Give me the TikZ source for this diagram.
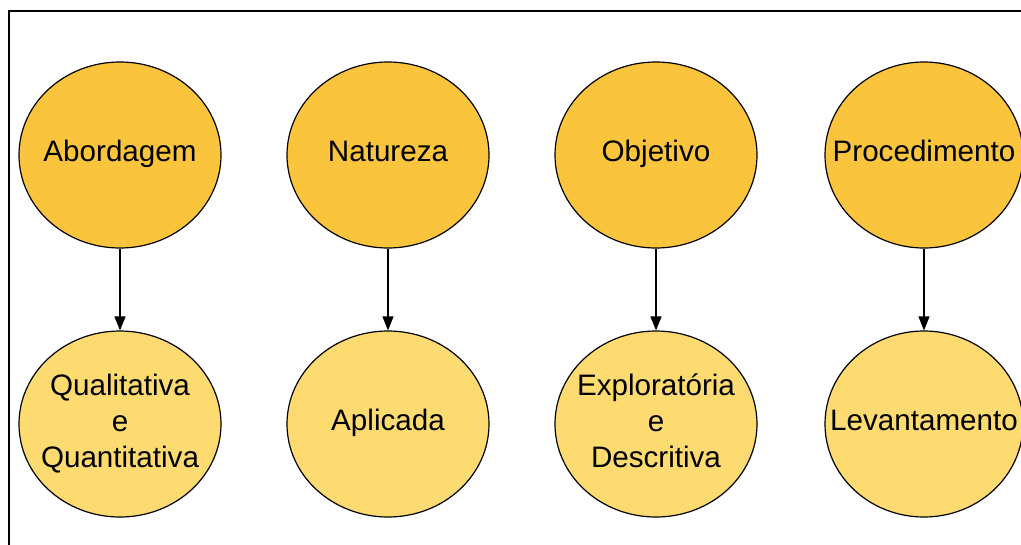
\documentclass[tikz,border=0pt]{standalone}
\usepackage{fontspec}
\setmainfont{Liberation Sans}
\usetikzlibrary{shapes.geometric,arrows.meta}
\definecolor{topfill}{HTML}{FBC43D}
\definecolor{botfill}{HTML}{FDDB70}
\begin{document}
\begin{tikzpicture}[x=1pt,y=-1pt,
  oval/.style={ellipse,draw=black,line width=1.2pt,minimum width=202pt,minimum height=186pt,inner sep=0pt},
  txt/.style={align=center,inner sep=0pt,font=\fontsize{29.6}{36}\selectfont},
  stxt/.style={txt,text height=21pt,text depth=9pt},
  topoval/.style={oval,fill=topfill},
  botoval/.style={oval,fill=botfill},
  conn/.style={draw=black,line width=1.3pt,-{Triangle[length=14pt,width=11pt]}}]
\useasboundingbox (0,0) rectangle (1021,544);
\begin{scope}
\clip (0,0) rectangle (1021,544);
\draw[line width=1.6pt] (9,11) rectangle (1040,570);
\end{scope}
\node[topoval,label={[stxt]center:Abordagem}] (t1) at (120,155) {};
\node[topoval,label={[stxt]center:Natureza}] (t2) at (388,155) {};
\node[topoval,label={[stxt]center:Objetivo}] (t3) at (656,155) {};
\node[topoval,minimum width=198pt,label={[stxt]center:Procedimento}] (t4) at (924,155) {};
\node[botoval,label={[txt]center:Qualitativa\\e\\Quantitativa}] (b1) at (120,424) {};
\node[botoval,label={[stxt]center:Aplicada}] (b2) at (388,424) {};
\node[botoval,label={[txt,yshift=3pt]center:Exploratória\\e\\Descritiva}] (b3) at (656,424) {};
\node[botoval,minimum width=198pt,label={[stxt]center:Levantamento}] (b4) at (924,424) {};
\draw[conn] (t1) -- (b1);
\draw[conn] (t2) -- (b2);
\draw[conn] (t3) -- (b3);
\draw[conn] (t4) -- (b4);
\end{tikzpicture}
\end{document}
